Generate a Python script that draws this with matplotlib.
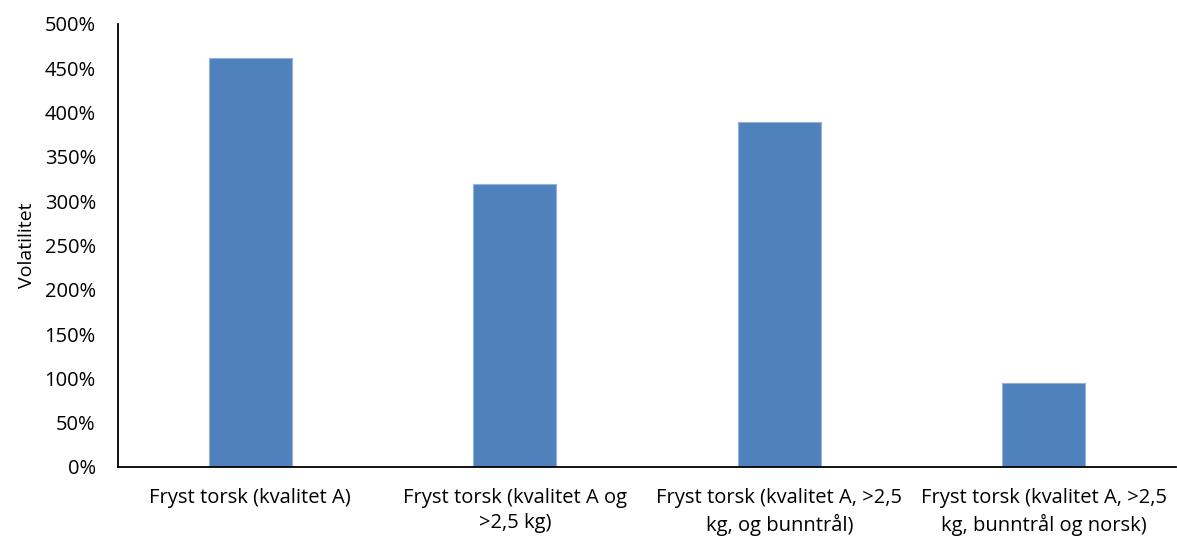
import matplotlib
matplotlib.use("Agg")
from matplotlib import pyplot as plt
from matplotlib.ticker import FuncFormatter

kategorier = [
    "Fryst torsk (kvalitet A)",
    "Fryst torsk (kvalitet A og\n>2,5 kg)",
    "Fryst torsk (kvalitet A, >2,5\nkg, og bunntrål)",
    "Fryst torsk (kvalitet A, >2,5\nkg, bunntrål og norsk)",
]
volatilitet = [4.62, 3.19, 3.89, 0.95]
y_ticks = [0, 0.5, 1.0, 1.5, 2.0, 2.5, 3.0, 3.5, 4.0, 4.5, 5.0]

plt.rcParams['font.family'] = ['Open Sans', 'DejaVu Sans']

fig = plt.figure(figsize=(11.77, 5.4), dpi=100)
ax = fig.add_axes([0.1003, 0.1352, 0.8990, 0.8204])

x = range(len(kategorier))
ax.bar(x, volatilitet, width=0.314, color='#4F81BD', edgecolor='#95B3D7', linewidth=0.8)

ax.set_xlim(-0.5, len(kategorier) - 0.5)
ax.set_ylim(0, 5.0)
ax.set_yticks(y_ticks)
ax.yaxis.set_major_formatter(FuncFormatter(lambda v, p: f"{v * 100:.0f}%"))
ax.set_xticks(list(x))
ax.set_xticklabels(kategorier, fontsize=14.5, linespacing=1.35)
ax.tick_params(axis='y', length=0, pad=16, labelsize=14.5)
ax.tick_params(axis='x', length=0, pad=15)
ax.set_ylabel('Volatilitet', fontsize=14, labelpad=6)

for side in ['top', 'right']:
    ax.spines[side].set_visible(False)
for side in ['left', 'bottom']:
    ax.spines[side].set_linewidth(1.3)
    ax.spines[side].set_color('black')

fig.savefig('out.png', dpi=100)
